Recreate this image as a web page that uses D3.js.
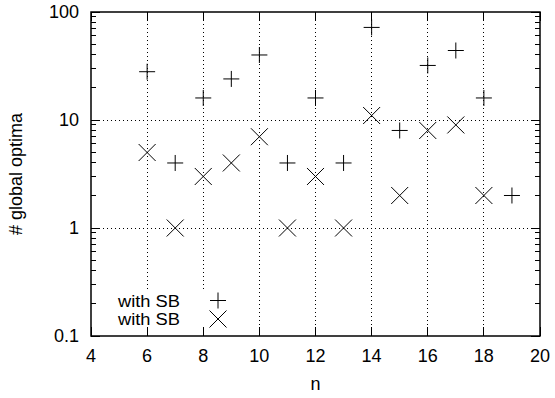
<!DOCTYPE html>
<html><head><meta charset="utf-8">
<script src="https://cdn.jsdelivr.net/npm/d3@7"></script>
<style>body{margin:0;background:#fff}svg{display:block}text{font-family:"Liberation Sans",Arial,sans-serif;font-size:18px;fill:#000}</style>
</head><body><svg id="c" width="555" height="398"></svg>
<script>
const plusN = [6,7,8,9,10,11,12,13,14,15,16,17,18,19];
const plusV = [28,4,16,24,40,4,16,4,72,8,32,44,16,2];
const crossN = [6,7,8,9,10,11,12,13,14,15,16,17,18];
const crossV = [5,1,3,4,7,1,3,1,11,2,8,9,2];
const xTicks = [4,6,8,10,12,14,16,18,20];
const yTicks = [0.1,1,10,100];
const yLabels = ["0.1","1","10","100"];
const legendLabels = ["with SB","with SB"];

const L=91,R=540,T=12,B=336;
const svg=d3.select("#c");
const x=d3.scaleLinear().domain([4,20]).range([L,R]);
const y=d3.scaleLog().domain([0.1,100]).range([B,T]);

// grid
const gx=[6,8,10,12,14,16,18], gy=[1,10];
svg.append("g").selectAll("line").data(gx).join("line")
 .attr("x1",d=>x(d)).attr("x2",d=>x(d)).attr("y1",T).attr("y2",B)
 .attr("stroke","#000").attr("stroke-width",1).attr("stroke-dasharray","1,3").attr("shape-rendering","crispEdges");
svg.append("g").selectAll("line").data(gy).join("line")
 .attr("x1",L).attr("x2",R).attr("y1",d=>y(d)).attr("y2",d=>y(d))
 .attr("stroke","#000").attr("stroke-width",1).attr("stroke-dasharray","1,3").attr("shape-rendering","crispEdges");

// legend background
svg.append("rect").attr("x",98).attr("y",290).attr("width",140).attr("height",45).attr("fill","#fff");

// ticks
const minor=[];
[0.1,1,10].forEach(d=>{for(let k=2;k<=9;k++)minor.push(d*k);});
const tk=svg.append("g").attr("stroke","#000").attr("stroke-width",1).attr("shape-rendering","crispEdges");
xTicks.forEach(d=>{
  tk.append("line").attr("x1",x(d)).attr("x2",x(d)).attr("y1",B).attr("y2",B-9);
  tk.append("line").attr("x1",x(d)).attr("x2",x(d)).attr("y1",T).attr("y2",T+9);
});
yTicks.forEach(d=>{
  tk.append("line").attr("x1",L).attr("x2",L+9).attr("y1",y(d)).attr("y2",y(d));
  tk.append("line").attr("x1",R).attr("x2",R-9).attr("y1",y(d)).attr("y2",y(d));
});
minor.forEach(d=>{
  tk.append("line").attr("x1",L).attr("x2",L+5).attr("y1",y(d)).attr("y2",y(d));
  tk.append("line").attr("x1",R).attr("x2",R-5).attr("y1",y(d)).attr("y2",y(d));
});

// frame
svg.append("rect").attr("x",L).attr("y",T).attr("width",R-L).attr("height",B-T)
 .attr("fill","none").attr("stroke","#000").attr("stroke-width",1.5);

// tick labels
svg.append("g").selectAll("text").data(xTicks).join("text")
 .attr("x",d=>x(d)).attr("y",362).attr("text-anchor","middle").text(d=>d);
svg.append("g").selectAll("text").data(yTicks).join("text")
 .attr("x",79).attr("y",d=>y(d)).attr("dy","0.36em").attr("text-anchor","end").text((d,i)=>yLabels[i]);

// axis titles
svg.append("text").attr("x",x(12)).attr("y",390).attr("text-anchor","middle").text("n");
svg.append("text").attr("transform","translate(22,174) rotate(-90)").attr("text-anchor","middle").text("# global optima");

// markers
const s=8;
function plus(g,cx,cy){
  g.append("path").attr("d",`M${cx-s},${cy}H${cx+s}M${cx},${cy-s}V${cy+s}`).attr("stroke","#000").attr("stroke-width",1).attr("fill","none");
}
function cross(g,cx,cy){
  const c=8.5;
  g.append("path").attr("d",`M${cx-c},${cy-c}L${cx+c},${cy+c}M${cx-c},${cy+c}L${cx+c},${cy-c}`).attr("stroke","#000").attr("stroke-width",1).attr("fill","none");
}
const pg=svg.append("g");
plusN.forEach((n,i)=>plus(pg,x(n),y(plusV[i])));
const cg=svg.append("g");
crossN.forEach((n,i)=>cross(cg,x(n),y(crossV[i])));

// legend
[306.5,324.5].forEach((yy,i)=>{
  svg.append("text").attr("x",180).attr("y",yy).attr("text-anchor","end")
    .style("font-size","16px").attr("textLength",62).attr("lengthAdjust","spacingAndGlyphs")
    .text(legendLabels[i]);
});
plus(svg,218,300.5);
cross(svg,218,319);
</script></body></html>
